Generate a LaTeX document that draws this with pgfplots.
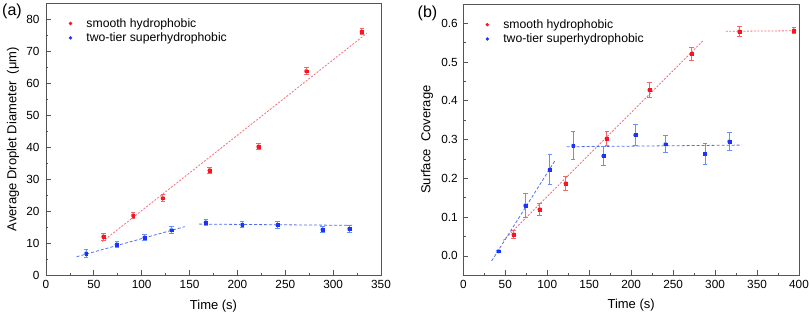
\documentclass[border=0pt]{standalone}
\usepackage{pgfplots}
\pgfplotsset{compat=1.18}
\usepackage{fontspec}
\setmainfont{Liberation Sans}
\definecolor{myred}{RGB}{250,20,30}
\definecolor{myblue}{RGB}{30,50,250}
\definecolor{ered}{RGB}{245,100,110}
\definecolor{eblue}{RGB}{100,145,255}
\definecolor{lred}{RGB}{245,110,120}
\definecolor{lblue}{RGB}{80,110,240}
\definecolor{axframe}{RGB}{85,85,85}

\pgfplotstableread{
x y e
60 12.1 1.1
91 18.7 1.0
122 24.1 1.0
171 32.8 1.0
222 40.2 0.9
272 63.8 1.0
330 76.1 1.0
}\Ared
\pgfplotstableread{
x y e
42 6.8 1.2
74 9.6 0.9
103 11.8 1.0
131 14.1 1.0
167 16.5 1.0
205 15.8 1.0
242 15.7 1.0
289 14.3 1.0
317 14.5 1.0
}\Ablue
\pgfplotstableread{
x y e
60 0.055 0.010
91 0.120 0.015
122 0.187 0.017
171 0.303 0.018
222 0.428 0.020
272 0.521 0.016
329 0.579 0.014
394 0.581 0.008
}\Bred
\pgfplotstableread{
x y e
42 0.012 0.003
74 0.130 0.030
103 0.222 0.039
131 0.284 0.036
167 0.258 0.025
205 0.312 0.027
241 0.288 0.022
288 0.263 0.026
317 0.295 0.024
}\Bblue

\pgfplotsset{
  mystyle/.style={
    scale only axis,
    anchor=south west,
    axis line style={axframe, line width=0.8pt},
    tick style={axframe, line width=0.8pt},
    tick align=inside, xtick pos=bottom, ytick pos=left,
    major tick length=5pt, minor tick length=2.5pt,
    minor x tick num=1, minor y tick num=1,
    tick label style={font=\fontsize{11.8}{13}\selectfont},
    x tick label style={yshift=-1.5pt},
    label style={font=\fontsize{13}{15}\selectfont},
    /pgf/number format/assume math mode=true,
    xlabel style={at={(axis description cs:0.5,-0.1118)}, anchor=center},
    legend style={draw=none, fill=none, font=\fontsize{12.2}{14}\selectfont,
      anchor=north west, row sep=0pt, inner sep=0pt, outer sep=0pt,
      /tikz/every even column/.append style={column sep=0pt}},
    legend cell align=left,
    legend image code/.code={\path[draw=none, fill=none] (0pt,-0.1pt) rectangle (14pt,0.1pt); \draw[#1, mark=*, mark size=1.5pt] plot coordinates {(0pt,0pt)};},
  },
  ebars/.style={color=#1, only marks, mark=none, forget plot,
    error bars/.cd, y dir=both, y explicit,
    error bar style={color=#1, line width=1pt},
    error mark options={color=#1, rotate=90, mark size=2.2pt, line width=1pt}},
  redpts/.style={only marks, mark=square*, mark size=1.4pt, color=myred},
  bluepts/.style={only marks, mark=square*, mark size=1.4pt, color=myblue},
  redfit/.style={lred, line width=0.8pt, dash pattern=on 2pt off 1.5pt, forget plot},
  bluefit/.style={lblue, line width=0.8pt, dash pattern=on 3pt off 2pt, forget plot},
}

\begin{document}
\begin{tikzpicture}[x=1pt,y=1pt]
\useasboundingbox (0,0) rectangle (809,315);

\begin{axis}[mystyle,
  at={(46pt,39.7pt)}, width=335pt, height=272pt,
  xmin=0, xmax=350, ymin=0, ymax=85,
  xtick={0,50,...,350}, ytick={0,10,...,80},
  y tick label style={xshift=-3pt},
  xlabel={Time (s)},
  ylabel={Average Droplet Diameter\ \ (μm)},
  ylabel style={at={(axis description cs:-0.0985,0.5)}, anchor=center},
  legend style={at={(axis description cs:0,1)}, xshift=23pt, yshift=-13pt},
]
\addplot[redfit] coordinates {(58.8,10.5) (335,75.6)};
\addplot[bluefit] coordinates {(32,5.8) (145,15.2)};
\addplot[bluefit] coordinates {(160,16.0) (321,15.6)};
\addplot[ebars=ered] table[x=x, y=y, y error=e] {\Ared};
\addplot[ebars=eblue] table[x=x, y=y, y error=e] {\Ablue};
\addplot[redpts] table[x=x, y=y] {\Ared};
\addlegendentry{smooth hydrophobic}
\addplot[bluepts] table[x=x, y=y] {\Ablue};
\addlegendentry{two-tier superhydrophobic}
\end{axis}

\begin{axis}[mystyle,
  at={(463.3pt,39.7pt)}, width=335.7pt, height=271.3pt,
  xmin=0, xmax=400, ymin=-0.05, ymax=0.65,
  xtick={0,50,...,400}, ytick={0,0.1,...,0.6},
  y tick label style={xshift=-2pt, /pgf/number format/.cd, fixed, fixed zerofill, precision=1},
  xlabel={Time (s)},
  ylabel={Surface\ \ Coverage},
  ylabel style={at={(axis description cs:-0.108,0.5)}, anchor=center},
  legend style={at={(axis description cs:0,1)}, xshift=22.5pt, yshift=-13.5pt},
]
\addplot[redfit] coordinates {(47.7,0.040) (286,0.556)};
\addplot[redfit] coordinates {(313,0.5795) (397,0.581)};
\addplot[bluefit] coordinates {(33.8,-0.013) (109.3,0.246)};
\addplot[bluefit] coordinates {(123,0.2816) (332,0.286)};
\addplot[ebars=ered] table[x=x, y=y, y error=e] {\Bred};
\addplot[ebars=eblue] table[x=x, y=y, y error=e] {\Bblue};
\addplot[redpts] table[x=x, y=y] {\Bred};
\addlegendentry{smooth hydrophobic}
\addplot[bluepts] table[x=x, y=y] {\Bblue};
\addlegendentry{two-tier superhydrophobic}
\end{axis}

\node[font=\fontsize{16}{18}\selectfont] at (12,304) {(a)};
\node[font=\fontsize{16}{18}\selectfont] at (427.5,302) {(b)};
\end{tikzpicture}
\end{document}
